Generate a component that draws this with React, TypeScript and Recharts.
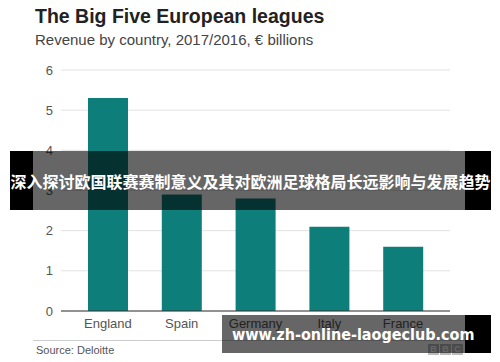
import { BarChart, Bar, XAxis, YAxis, CartesianGrid } from "recharts";

const countries = ["England", "Spain", "Germany", "Italy", "France"];
const revenue = [5.3, 2.9, 2.8, 2.1, 1.6];
const yTicks = [0, 1, 2, 3, 4, 5, 6];

const data = countries.map((country, i) => ({ country, revenue: revenue[i] }));

const font = "'Liberation Sans', Arial, sans-serif";

const App = () => {
  return (
    <div style={{ position: "absolute", left: 0, top: 0, width: 500, height: 362, background: "#fff", overflow: "hidden", fontFamily: font }}>
      <div style={{ position: "absolute", left: 35, top: 5, fontSize: 19.5, fontWeight: "bold", color: "#222", whiteSpace: "nowrap" }}>
        The Big Five European leagues
      </div>
      <div style={{ position: "absolute", left: 35, top: 31, fontSize: 15, color: "#444", whiteSpace: "nowrap" }}>
        Revenue by country, 2017/2016, € billions
      </div>

      <div style={{ position: "absolute", left: 0, top: 0 }}>
        <BarChart width={500} height={362} data={data} margin={{ top: 70, right: 50, bottom: 21, left: 0 }}>
          <CartesianGrid vertical={false} stroke="#e2e2e2" />
          <XAxis
            dataKey="country"
            height={30}
            padding={{ left: 10, right: 10 }}
            axisLine={{ stroke: "#333" }}
            tickLine={false}
            tick={{ fill: "#555", fontSize: 13, fontFamily: font }}
          />
          <YAxis
            width={61}
            domain={[0, 6]}
            ticks={yTicks}
            axisLine={false}
            tickLine={false}
            tick={{ fill: "#555", fontSize: 13, fontFamily: font }}
          />
          <Bar dataKey="revenue" fill="#0d7e7a" barSize={40} isAnimationActive={false} />
        </BarChart>
      </div>

      <div style={{ position: "absolute", left: 33, top: 340, width: 432, height: 1, background: "#ccc" }} />
      <div style={{ position: "absolute", left: 36, top: 344, fontSize: 11, color: "#555" }}>Source: Deloitte</div>
      <div style={{ position: "absolute", left: 428, top: 344, display: "flex", gap: 1 }}>
        {["B", "B", "C"].map((c, i) => (
          <div key={i} style={{ width: 11, height: 11, background: "#bbb", color: "#fff", fontSize: 9, fontWeight: "bold", textAlign: "center", lineHeight: "11px" }}>
            {c}
          </div>
        ))}
      </div>

      {/* watermark bands */}
      <div style={{ position: "absolute", left: 10, top: 151, width: 23, height: 59, background: "#000" }} />
      <div style={{ position: "absolute", left: 33, top: 151, width: 432, height: 59, background: "rgba(0,0,0,0.6)" }} />
      <div style={{ position: "absolute", left: 465, top: 151, width: 26, height: 59, background: "#000" }} />
      <div style={{ position: "absolute", left: 10, top: 151, width: 481, height: 59, display: "flex", alignItems: "center", justifyContent: "center", color: "#fff", fontSize: 16, fontWeight: "bold", fontFamily: "'Noto Sans CJK SC', sans-serif", whiteSpace: "nowrap" }}>
        深入探讨欧国联赛赛制意义及其对欧洲足球格局长远影响与发展趋势
      </div>

      <div style={{ position: "absolute", left: 222, top: 315, width: 243, height: 38, background: "rgba(0,0,0,0.6)" }} />
      <div style={{ position: "absolute", left: 465, top: 315, width: 26, height: 38, background: "#000" }} />
      <div style={{ position: "absolute", left: 232, top: 315, height: 38, display: "flex", alignItems: "center", color: "#fff", fontSize: 16, fontWeight: "bold", fontFamily: "'DejaVu Sans Condensed', 'DejaVu Sans', sans-serif", whiteSpace: "nowrap" }}>
        www.zh-online-laogeclub.com
      </div>
    </div>
  );
};

export default App;
